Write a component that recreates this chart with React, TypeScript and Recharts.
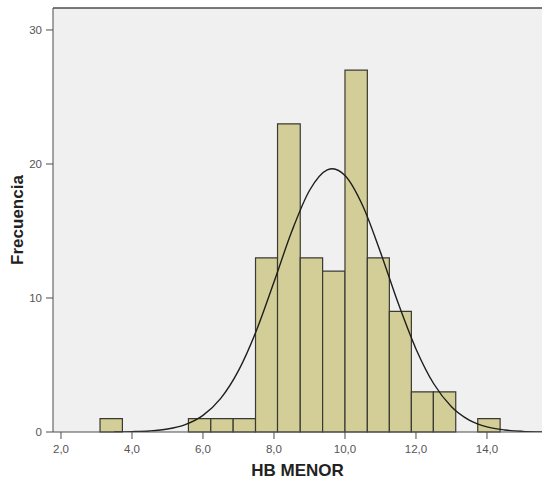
import {
  ComposedChart, Line, XAxis, YAxis, CartesianGrid, ReferenceArea, ReferenceLine, Label,
} from "recharts";

// histogram bins (edges + counts)
const binEdges = [
  3.10, 3.73, 4.35, 4.97, 5.59, 6.22, 6.85, 7.48, 8.10, 8.74,
  9.37, 10.00, 10.63, 11.25, 11.87, 12.49, 13.12, 13.74, 14.37,
];
const binCounts = [1, 0, 0, 0, 1, 1, 1, 13, 23, 13, 12, 27, 13, 9, 3, 3, 0, 1];

// normal curve
const curveX = [
  3.5, 4.0, 4.5, 5.0, 5.5, 6.0, 6.5, 7.0, 7.5, 8.0, 8.5, 9.0, 9.5, 9.65,
  10.0, 10.5, 11.0, 11.5, 12.0, 12.5, 13.0, 13.5, 14.0, 14.5, 15.0, 15.55,
];
const curveY = [
  0.01, 0.03, 0.08, 0.22, 0.55, 1.24, 2.51, 4.58, 7.54, 11.19, 14.96, 18.02, 19.56, 19.65,
  19.14, 16.88, 13.41, 9.6, 6.2, 3.6, 1.89, 0.89, 0.38, 0.15, 0.05, 0.01,
];

const xTicks = [2, 4, 6, 8, 10, 12, 14];
const yTicks = [0, 10, 20, 30];

const X_DOMAIN: [number, number] = [1.775, 15.55];
const Y_DOMAIN: [number, number] = [0, 31.64];

const curveData = curveX.map((x, i) => ({ x, y: curveY[i] }));
const bins = binCounts
  .map((count, i) => ({ lo: binEdges[i], hi: binEdges[i + 1], count }))
  .filter((b) => b.count > 0);

const FONT = "'Liberation Sans', Arial, sans-serif";
const AXIS = "#4d4d4d";
const tickStyle = { fontSize: 11.5, fill: "#555", fontFamily: FONT };

export default function App() {
  return (
    <div style={{ position: "absolute", left: 0, top: 0 }}>
      <ComposedChart
        width={542}
        height={484}
        data={curveData}
        margin={{ top: 8, right: 0, bottom: 0, left: 0 }}
      >
        <CartesianGrid horizontal={false} vertical={false} fill="#f0f0f0" />
        <XAxis
          type="number"
          dataKey="x"
          domain={X_DOMAIN}
          allowDataOverflow
          ticks={xTicks}
          interval={0}
          tickFormatter={(v: number) => v.toFixed(1).replace(".", ",")}
          height={52}
          tick={tickStyle}
          tickSize={7}
          tickMargin={6}
          axisLine={{ stroke: AXIS }}
          tickLine={{ stroke: AXIS }}
        >
          <Label
            value="HB MENOR"
            position="insideBottom"
            offset={8}
            style={{ fontSize: 17, fontWeight: 700, fill: "#222", fontFamily: FONT }}
          />
        </XAxis>
        <YAxis
          type="number"
          domain={Y_DOMAIN}
          allowDataOverflow
          ticks={yTicks}
          interval={0}
          width={53}
          tick={tickStyle}
          tickSize={7}
          tickMargin={4}
          axisLine={{ stroke: AXIS }}
          tickLine={{ stroke: AXIS }}
        >
          <Label
            content={({ viewBox }: any) => {
              const cy = viewBox.y + viewBox.height / 2;
              const cx = viewBox.x + 17;
              return (
                <text
                  x={cx}
                  y={cy}
                  transform={`rotate(-90, ${cx}, ${cy})`}
                  textAnchor="middle"
                  dominantBaseline="central"
                  style={{ fontSize: 17, fontWeight: 700, fill: "#222", fontFamily: FONT }}
                >
                  Frecuencia
                </text>
              );
            }}
          />
        </YAxis>
        <ReferenceLine y={Y_DOMAIN[1]} stroke={AXIS} strokeWidth={1.5} />
        {bins.map((b) => (
          <ReferenceArea
            key={b.lo}
            x1={b.lo}
            x2={b.hi}
            y1={0}
            y2={b.count}
            fill="#d3ce97"
            fillOpacity={1}
            stroke="#3a3a32"
            strokeWidth={1.2}
          />
        ))}
        <Line
          type="monotone"
          dataKey="y"
          stroke="#1e1e1e"
          strokeWidth={1.4}
          dot={false}
          activeDot={false}
          isAnimationActive={false}
        />
      </ComposedChart>
    </div>
  );
}
